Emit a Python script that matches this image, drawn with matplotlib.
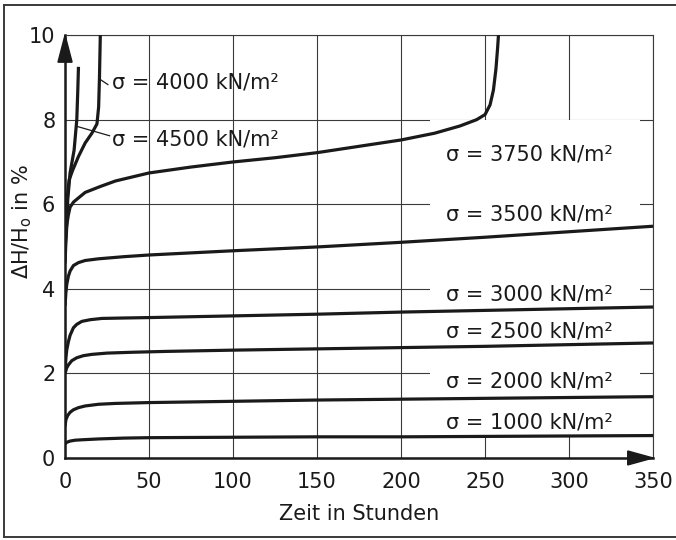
import matplotlib
matplotlib.use('Agg')
import matplotlib.pyplot as plt
from matplotlib.patches import Polygon, Rectangle
from matplotlib.lines import Line2D

# curves: time in hours, dH/H0 in %
t_1000 = [0, 1, 3, 6, 10, 20, 35, 50, 100, 150, 200, 250, 300, 350]
h_1000 = [0.33, 0.37, 0.40, 0.42, 0.43, 0.45, 0.47, 0.48, 0.49, 0.50, 0.50, 0.51, 0.52, 0.53]

t_2000 = [0, 0.5, 1.5, 3, 5, 8, 12, 20, 30, 50, 100, 150, 200, 250, 300, 350]
h_2000 = [0.75, 0.90, 1.00, 1.08, 1.14, 1.19, 1.23, 1.27, 1.29, 1.31, 1.34, 1.37, 1.39, 1.41, 1.43, 1.45]

t_2500 = [0, 1, 2, 4, 7, 11, 16, 25, 40, 60, 100, 150, 200, 250, 300, 350]
h_2500 = [2.0, 2.13, 2.20, 2.30, 2.37, 2.42, 2.45, 2.48, 2.50, 2.52, 2.55, 2.58, 2.61, 2.64, 2.68, 2.72]

t_3000 = [0, 0.5, 1, 2, 3, 5, 7, 10, 15, 22, 35, 50, 100, 150, 200, 250, 300, 350]
h_3000 = [2.0, 2.35, 2.55, 2.75, 2.90, 3.08, 3.16, 3.23, 3.27, 3.30, 3.31, 3.32, 3.36, 3.40, 3.45, 3.49, 3.53, 3.57]

t_3500 = [0, 0.5, 1, 2, 3, 5, 8, 12, 20, 35, 50, 100, 150, 200, 250, 300, 350]
h_3500 = [3.6, 3.9, 4.1, 4.3, 4.42, 4.55, 4.62, 4.67, 4.71, 4.76, 4.80, 4.90, 4.99, 5.10, 5.22, 5.35, 5.48]

t_3750 = [0, 0.5, 1, 2, 3, 5, 8, 12, 21, 30, 50, 75, 100, 125, 150, 175, 200,
          220, 235, 245, 250, 253, 255, 256.5, 257.5, 258]
h_3750 = [4.9, 5.3, 5.5, 5.75, 5.93, 6.05, 6.15, 6.28, 6.42, 6.55, 6.74, 6.88, 7.00, 7.10, 7.22,
          7.37, 7.52, 7.68, 7.85, 8.00, 8.12, 8.35, 8.70, 9.20, 9.70, 10.0]

t_4000 = [0, 0.5, 1.2, 2.4, 4.5, 8, 12, 16, 19, 20, 20.5, 21]
h_4000 = [4.9, 5.6, 6.1, 6.57, 6.8, 7.13, 7.45, 7.68, 7.9, 8.3, 9.0, 10.0]

t_4500 = [0, 0.4, 1, 1.6, 3, 5.4, 7, 7.6, 8]
h_4500 = [4.6, 5.0, 5.46, 6.1, 6.74, 7.28, 8.0, 8.7, 9.25]

series = [(t_1000, h_1000), (t_2000, h_2000), (t_2500, h_2500), (t_3000, h_3000),
          (t_3500, h_3500), (t_3750, h_3750), (t_4000, h_4000), (t_4500, h_4500)]

# label texts and where they sit (data coords)
lab_right = ['σ = 3750 kN/m²', 'σ = 3500 kN/m²', 'σ = 3000 kN/m²',
             'σ = 2500 kN/m²', 'σ = 2000 kN/m²', 'σ = 1000 kN/m²']
lab_right_y = [7.18, 5.76, 3.86, 3.0, 1.81, 0.85]
lab_left = ['σ = 4000 kN/m²', 'σ = 4500 kN/m²']
lab_left_y = [8.87, 7.52]

x_ticks = [0, 50, 100, 150, 200, 250, 300, 350]
y_ticks = [0, 2, 4, 6, 8, 10]

ink = '#1a1a1a'
grid_c = '#3a3a3a'
fs = 15

fig = plt.figure(figsize=(6.76, 5.4), dpi=100)
ax = fig.add_axes([0.0962, 0.1519, 0.8698, 0.7831])

# outer frame of the figure: left, top and bottom only (right edge is cut off)
for xs, ys in [([0.006, 0.006], [0.006, 0.991]),
               ([0.006, 1.0], [0.991, 0.991]),
               ([0.006, 1.0], [0.006, 0.006])]:
    fig.add_artist(Line2D(xs, ys, transform=fig.transFigure, color=grid_c, linewidth=1.4))

ax.set_xlim(0, 350)
ax.set_ylim(0, 10)
ax.set_xticks(x_ticks)
ax.set_yticks(y_ticks)
ax.tick_params(length=0, labelsize=fs, colors=ink)
ax.tick_params(axis='x', pad=10)
ax.tick_params(axis='y', pad=7)
ax.grid(True, color=grid_c, linewidth=0.8, zorder=1)
ax.set_axisbelow(True)

for side in ['top', 'right']:
    ax.spines[side].set_linewidth(0.8)
    ax.spines[side].set_color(grid_c)
for side in ['left', 'bottom']:
    ax.spines[side].set_linewidth(1.8)
    ax.spines[side].set_color(ink)

# white area that holds the labels on the right
ax.add_patch(Rectangle((217, 0.5), 125, 7.5, facecolor='white', edgecolor='none', zorder=2))

for t, h in series:
    ax.plot(t, h, color=ink, linewidth=2.3, solid_capstyle='butt', zorder=3)

for txt, y in zip(lab_right, lab_right_y):
    ax.text(227, y, txt, fontsize=fs, color=ink, va='center', ha='left', zorder=4)
for txt, y in zip(lab_left, lab_left_y):
    ax.text(28, y, txt, fontsize=fs, color=ink, va='center', ha='left', zorder=4)

# leader lines to the two steep curves
ax.plot([21, 25.5], [8.95, 8.83], color=ink, linewidth=0.9, zorder=4)
ax.plot([7.2, 26.5], [7.84, 7.62], color=ink, linewidth=0.9, zorder=4)

# arrow heads on the axes
ax.add_patch(Polygon([(0, 1.0), (-0.012, 0.936), (0.012, 0.936)], closed=True,
                     transform=ax.transAxes, color=ink, clip_on=False, zorder=5))
ax.add_patch(Polygon([(1.0, 0), (0.957, 0.0165), (0.957, -0.0165)], closed=True,
                     transform=ax.transAxes, color=ink, clip_on=False, zorder=5))

ax.set_xlabel('Zeit in Stunden', fontsize=fs, color=ink, labelpad=9)
ax.set_ylabel(r'$\Delta$H/H$_\mathregular{o}$ in %', fontsize=fs, color=ink, va='center')
ax.yaxis.set_label_coords(-0.073, 0.56)

fig.savefig('out.png', dpi=100)
